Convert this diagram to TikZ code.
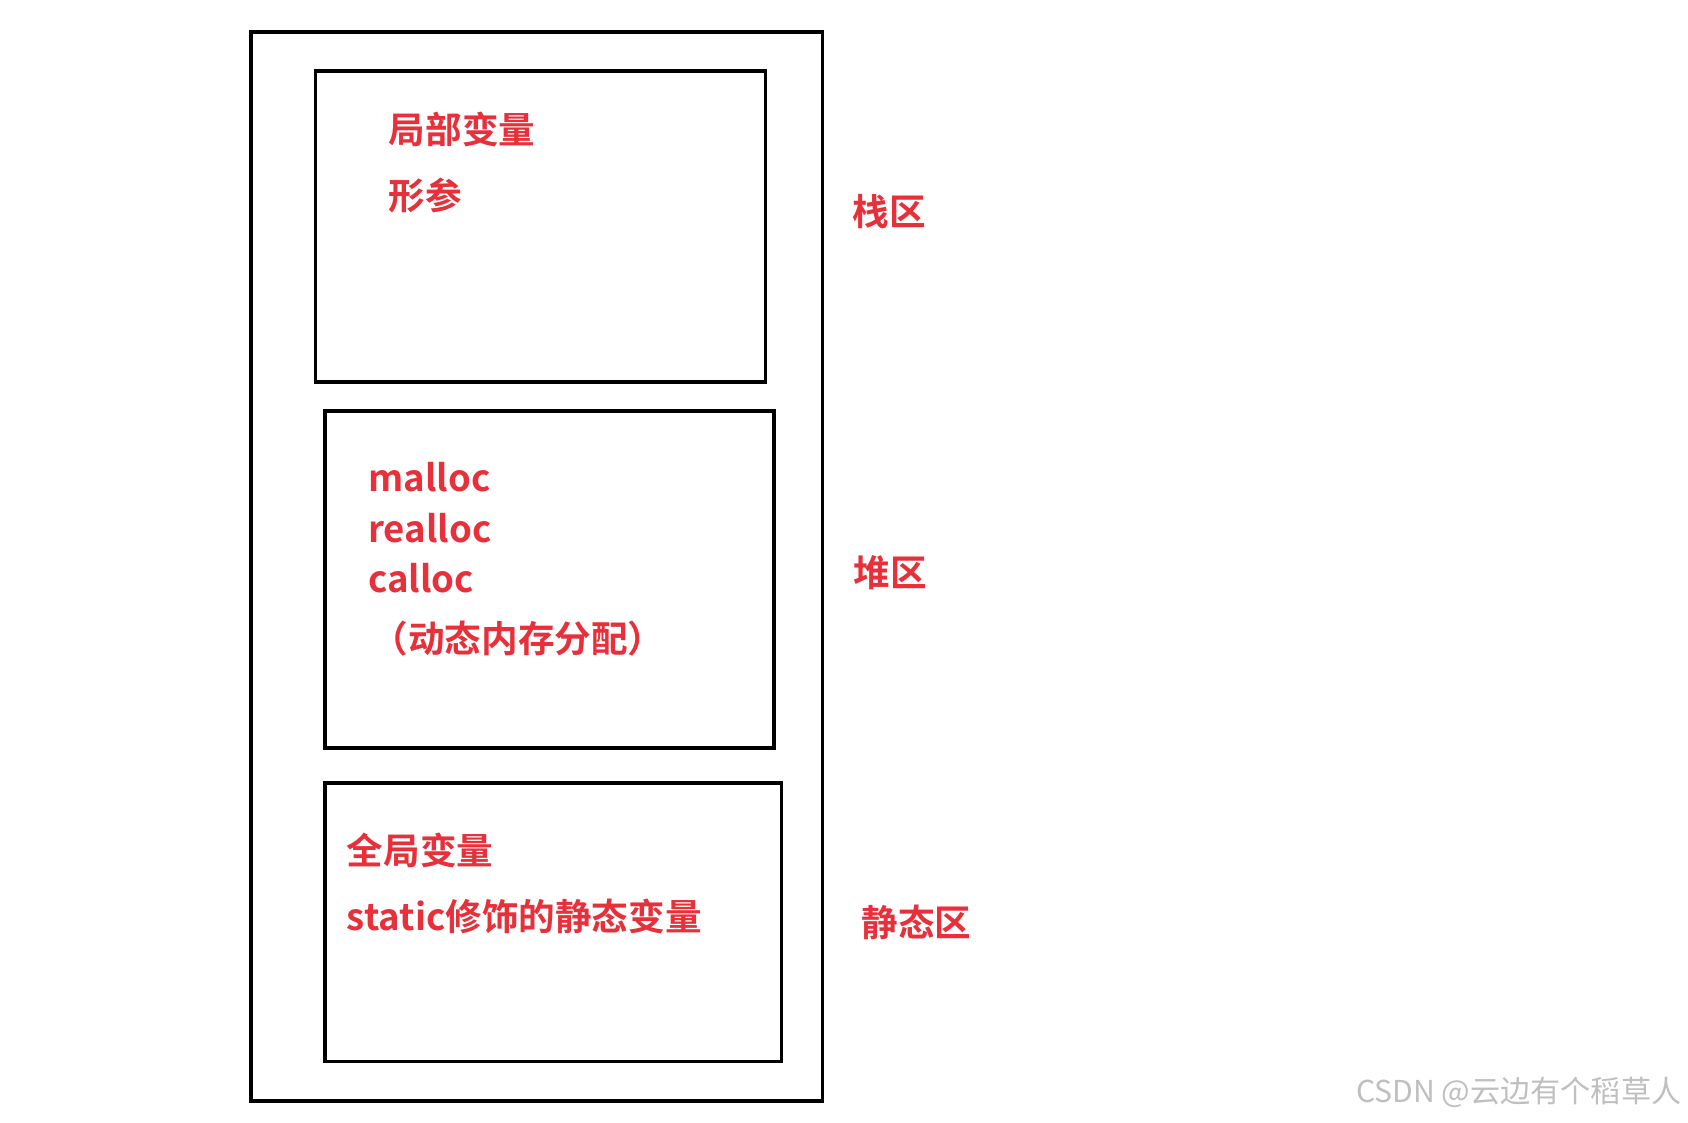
\documentclass[tikz,border=0pt]{standalone}
\usepackage{fontspec}
\newfontfamily\cjk{Noto Sans CJK SC}
\newfontfamily\cjkb{Noto Sans CJK SC Bold}
\definecolor{tred}{RGB}{232,48,58}
\begin{document}
\begin{tikzpicture}[x=1pt,y=-1pt,
  box/.style={draw=black,line width=3.5pt},
  lbl/.style={anchor=west,inner sep=0pt,text=tred,font=\cjkb\fontsize{34}{40}\selectfont},
  wm/.style={anchor=east,inner sep=0pt,text=black!25,font=\cjk\fontsize{28}{32}\selectfont}]
\useasboundingbox[fill=white] (0,0) rectangle (1568,1043);
\draw[box] (233,30) rectangle (764,1023);
\draw[box] (293,66) rectangle (711,355);
\draw[box] (302,382) rectangle (719,695);
\draw[box] (302,727) rectangle (726,986);
\node[lbl] (a1) at (361,120) {局部变量};
\node[lbl] (a2) at (361,182) {形参};
\node[lbl] (z1) at (792,197) {栈区};
\node[lbl] (b1) at (342,443) {malloc};
\node[lbl] (b2) at (342,491) {realloc};
\node[lbl] (b3) at (342,537) {calloc};
\node[lbl] (b4) at (345,593) {（动态内存分配）};
\node[lbl] (z2) at (793,532) {堆区};
\node[lbl] (c1) at (322,790) {全局变量};
\node[lbl] (c2) at (322,851) {static修饰的静态变量};
\node[lbl] (z3) at (800,857) {静态区};
\node[wm] (w) at (1562,1015) {CSDN @云边有个稻草人};
\end{tikzpicture}
\end{document}
